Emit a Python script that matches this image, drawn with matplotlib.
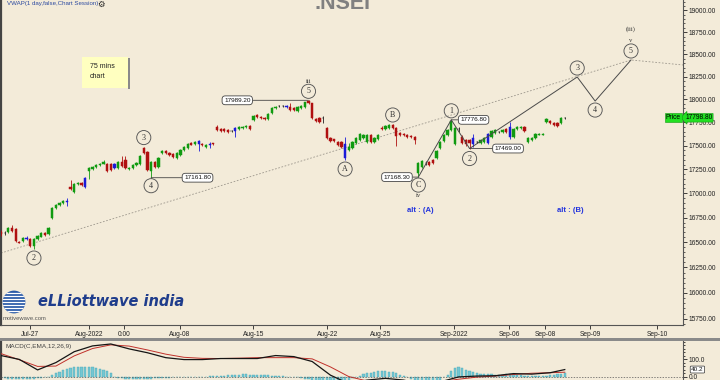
import numpy as np
import matplotlib
matplotlib.use('Agg')
import matplotlib.pyplot as plt
from matplotlib.patches import Rectangle, Circle
from matplotlib.ticker import FixedLocator, FixedFormatter, NullFormatter

# 75 min candles (Jul-25 .. Sep-08 2022)
opens = [16603, 16593, 16603, 16649, 16633, 16508, 16513, 16543, 16533, 16463,
         16533, 16556, 16593, 16583, 16745, 16848, 16878, 16899, 16920, 17064,
         17012, 17096, 17106, 17064, 17230, 17251, 17273, 17294, 17310, 17304,
         17304, 17262, 17262, 17326, 17347, 17257, 17262, 17294, 17304, 17474,
         17432, 17230, 17326, 17273, 17421, 17442, 17421, 17411, 17368, 17400,
         17453, 17474, 17528, 17517, 17549, 17517, 17485, 17517, 17528, 17700,
         17678, 17673, 17667, 17657, 17657, 17678, 17689, 17700, 17710, 17775,
         17829, 17808, 17797, 17786, 17851, 17905, 17927, 17927, 17927, 17916,
         17905, 17868, 17905, 17916, 17981, 17959, 17786, 17797, 17797, 17689,
         17581, 17571, 17538, 17538, 17517, 17453, 17474, 17528, 17560, 17581,
         17538, 17614, 17538, 17571, 17689, 17678, 17689, 17721, 17689, 17635,
         17624, 17614, 17603, 17592, 17209, 17273, 17315, 17326, 17347, 17368,
         17474, 17549, 17614, 17667, 17517, 17678, 17592, 17560, 17560, 17517,
         17538, 17528, 17538, 17528, 17592, 17635, 17646, 17646, 17678, 17700,
         17592, 17678, 17689, 17700, 17538, 17560, 17581, 17614, 17614, 17754,
         17764, 17743, 17743, 17743, 17797]
highs = [16623, 16613, 16654, 16674, 16643, 16513, 16553, 16563, 16543, 16543,
         16573, 16603, 16603, 16654, 16858, 16889, 16909, 16930, 16950, 17138,
         17106, 17117, 17117, 17169, 17273, 17283, 17304, 17315, 17352, 17315,
         17315, 17315, 17336, 17389, 17389, 17273, 17304, 17326, 17400, 17490,
         17442, 17336, 17336, 17379, 17453, 17453, 17432, 17421, 17432, 17464,
         17495, 17528, 17538, 17549, 17560, 17528, 17517, 17538, 17533, 17721,
         17689, 17684, 17678, 17667, 17700, 17710, 17710, 17721, 17721, 17829,
         17840, 17818, 17808, 17851, 17916, 17927, 17938, 17938, 17938, 17959,
         17916, 17927, 17938, 17976, 17989.2, 17965, 17797, 17808, 17818, 17700,
         17592, 17576, 17549, 17549, 17592, 17528, 17549, 17592, 17635, 17624,
         17624, 17624, 17592, 17624, 17710, 17721, 17732, 17732, 17700, 17646,
         17635, 17624, 17614, 17603, 17326, 17347, 17336, 17336, 17358, 17453,
         17549, 17624, 17678, 17776.8, 17700, 17700, 17614, 17571, 17571, 17624,
         17549, 17571, 17592, 17635, 17667, 17678, 17657, 17678, 17689, 17754,
         17689, 17710, 17710, 17710, 17592, 17592, 17635, 17635, 17635, 17797,
         17775, 17754, 17754, 17808, 17803]
lows = [16563, 16573, 16593, 16603, 16503, 16493, 16503, 16523, 16458, 16433,
        16523, 16553, 16563, 16573, 16735, 16837, 16868, 16889, 16868, 17033,
        17002, 17085, 17075, 17054, 17148, 17241, 17262, 17283, 17304, 17220,
        17230, 17251, 17251, 17273, 17251, 17241, 17251, 17283, 17294, 17411,
        17230, 17161.8, 17262, 17262, 17411, 17411, 17389, 17368, 17358, 17389,
        17442, 17464, 17506, 17506, 17442, 17495, 17474, 17474, 17506, 17657,
        17646, 17646, 17635, 17646, 17592, 17667, 17678, 17689, 17667, 17764,
        17797, 17786, 17775, 17775, 17840, 17894, 17916, 17916, 17905, 17873,
        17873, 17862, 17894, 17905, 17949, 17786, 17754, 17743, 17743, 17571,
        17538, 17538, 17495, 17474, 17347, 17442, 17464, 17517, 17549, 17571,
        17528, 17528, 17528, 17560, 17667, 17667, 17678, 17678, 17495, 17603,
        17603, 17581, 17581, 17517, 17168.3, 17262, 17294, 17283, 17304, 17358,
        17464, 17538, 17603, 17657, 17506, 17646, 17517, 17495, 17469.0, 17485,
        17528, 17517, 17528, 17517, 17581, 17624, 17635, 17635, 17635, 17571,
        17581, 17667, 17678, 17646, 17528, 17549, 17571, 17614, 17614, 17743,
        17732, 17710, 17700, 17732, 17786]
closes = [16583, 16590, 16643, 16613, 16513, 16498, 16546, 16533, 16463, 16533,
          16563, 16590, 16573, 16643, 16848, 16878, 16899, 16920, 16915, 17049,
          17096, 17106, 17085, 17159, 17262, 17273, 17294, 17310, 17326, 17230,
          17241, 17304, 17326, 17283, 17262, 17268, 17294, 17315, 17389, 17421,
          17241, 17326, 17273, 17368, 17442, 17421, 17400, 17379, 17421, 17453,
          17485, 17517, 17512, 17538, 17517, 17506, 17506, 17512, 17517, 17667,
          17657, 17657, 17646, 17655, 17689, 17700, 17700, 17710, 17678, 17818,
          17808, 17797, 17786, 17840, 17905, 17916, 17925, 17929, 17916, 17884,
          17884, 17916, 17927, 17970, 17959, 17797, 17764, 17754, 17795, 17581,
          17549, 17549, 17506, 17485, 17368, 17485, 17538, 17581, 17624, 17614,
          17614, 17538, 17581, 17614, 17678, 17710, 17721, 17689, 17603, 17614,
          17614, 17592, 17592, 17560, 17315, 17336, 17318, 17294, 17315, 17442,
          17538, 17614, 17667, 17764, 17689, 17675, 17528, 17517, 17528, 17581,
          17540, 17560, 17581, 17624, 17657, 17667, 17648, 17667, 17646, 17592,
          17678, 17700, 17700, 17657, 17581, 17581, 17624, 17624, 17624, 17786,
          17743, 17721, 17710, 17797, 17798.8]
blue_bars = [7, 18, 23, 31, 54, 57, 64, 78, 94, 129, 133, 139]
last_price = 17798.80

price_ticks = [15750, 16000, 16250, 16500, 16750, 17000, 17250, 17500,
               17750, 18000, 18250, 18500, 18750, 19000]
date_labels = ['Jul-27', 'Aug-2022', '0:00', 'Aug-08', 'Aug-15', 'Aug-22',
               'Aug-25', 'Sep-2022', 'Sep-06', 'Sep-08', 'Sep-09', 'Sep-10']
date_pos = [7.9, 24.0, 33.6, 48.9, 68.9, 89.1, 103.6, 123.8, 138.8, 148.6, 160.9, 179.2]

# wave count: C, 1, 2 pivots then projected 3, 4, 5
wave_x = [114, 123, 128, 157.4, 162.3, 172.1]
wave_y = [17168.3, 17776.8, 17469.0, 18246, 17981, 18436]
channel_x = [0, 172.1, 186.3]
channel_y = [16393, 18436, 18380]

# MACD(12,26,9) read every 5 bars
macd_x = list(range(0, 155, 5)) + [154]
macd_line = [120, 98, 38, 80, 142, 175, 186, 158, 136, 108, 97, 97, 103, 103, 103, 120,
             114, 86, 8, -40, -20, -10, -20, -45, -30, -2, 3, 5, 17, 14, 22, 40]
signal_line = [131, 96, 58, 60, 118, 160, 181, 174, 152, 128, 110, 104, 103, 105, 108, 108,
               108, 101, 55, 0, -25, -30, -30, -35, -30, -15, -3, 3, 12, 19, 22, 25]
macd_hist = ([-8, -10, -12, -14, -15, -16, -16, -15, -14, -12, -10, -8, -5, -2]
             + [8, 20, 28, 35, 42, 48, 52, 55, 56, 56, 55, 52, 48, 45, 40, 32, 22]
             + [-5, -8, -10, -12, -14, -15, -15, -14, -13, -12, -11, -10, -9, -8, -7, -6,
                -5, -4, -3, -3, -2, -2, -1, -1, 0, 0, 1, 1]
             + [3, 5, 6, 8, 9, 10, 11, 12, 12, 11, 10, 10, 9, 8, 7, 6, 5, 3, 2]
             + [0, -1, -3, -5, -8, -12, -16, -20, -25, -30, -34, -38, -40, -40, -38, -35]
             + [-30, -20, -10, -2, 5, 12, 18, 22, 26, 29, 30, 30, 28, 24, 18]
             + [10, 2, -5, -12, -20, -30, -35, -38, -38, -35, -28, -18]
             + [-5, 10, 30, 48, 55, 50, 40, 32]
             + [25, 20, 16, 14, 12, 12, 11, 10, 10, 12, 14, 12, 10, 8, 6, 5, 4, 4, 3, 3,
                6, 8, 10, 13, 15, 18])
macd_last = 40.2

BG = '#f3ebd9'
GREEN = '#109a10'
RED = '#b01010'
BLUE = '#1a1ad8'
BLACK = '#202020'
TICK = 'Liberation Sans'


def fig_box(x, y, w, h):
    return [x / 720, 1 - (y + h) / 380, w / 720, h / 380]


def candle_colors():
    cols = []
    for i, (o, c) in enumerate(zip(opens, closes)):
        if i in blue_bars:
            cols.append(BLUE)
        elif abs(c - o) <= 5:
            cols.append(BLACK)
        elif c > o:
            cols.append(GREEN)
        else:
            cols.append(RED)
    return cols


def circled(ax, x, y, txt, dy):
    ax.annotate(txt, xy=(x, y), xytext=(0, dy), textcoords='offset pixels',
                ha='center', va='center', fontsize=5.8, family='Liberation Serif',
                color='#333333',
                bbox=dict(boxstyle='circle,pad=0.38', fc='none', ec='#555555', lw=0.65))


def roman(ax, x, y, txt, dy):
    ax.annotate(txt, xy=(x, y), xytext=(0, dy), textcoords='offset pixels',
                ha='center', va='center', fontsize=4.8, family='Liberation Serif',
                color='#333333')


def price_box(ax, x, y, dx, side):
    ha = 'left' if side > 0 else 'right'
    ax.annotate('%.2f' % y, xy=(x, y), xytext=(dx, 0), textcoords='offset pixels',
                ha=ha, va='center', fontsize=4.6, family=TICK, color='#111111',
                bbox=dict(boxstyle='round,pad=0.3,rounding_size=0.5', fc='white',
                          ec='#444444', lw=0.6),
                arrowprops=dict(arrowstyle='-', color='#444444', lw=0.6,
                                shrinkA=0, shrinkB=0,
                                relpos=(0, 0.5) if side > 0 else (1, 0.5)))


def draw_price(ax):
    x = np.arange(len(closes))
    o = np.array(opens, float)
    c = np.array(closes, float)
    cols = candle_colors()
    ax.vlines(x, lows, highs, colors=cols, linewidth=0.6, zorder=3)
    ax.bar(x, np.abs(c - o), bottom=np.minimum(o, c), width=0.62, color=cols,
           edgecolor=cols, linewidth=0.35, zorder=4)

    ax.plot(channel_x, channel_y, color='#9c968c', lw=0.6, ls=(0, (2, 2)), zorder=2)
    ax.plot(wave_x, wave_y, color='#4a4a4a', lw=0.7, zorder=5)

    circled(ax, 9, lows[9], '2', -9)
    circled(ax, 39, highs[39], '3', 9)
    circled(ax, 41, lows[41], '4', -8)
    circled(ax, 84, highs[84], '5', 9)
    roman(ax, 84, highs[84], 'iii', 19)
    circled(ax, 94, lows[94], 'A', -9)
    circled(ax, 107, highs[107], 'B', 9)
    circled(ax, 114, lows[114], 'C', -8)
    roman(ax, 114, lows[114], 'iv', -18)
    circled(ax, wave_x[1], wave_y[1], '1', 9)
    circled(ax, wave_x[2], wave_y[2], '2', -10)
    circled(ax, wave_x[3], wave_y[3], '3', 9)
    circled(ax, wave_x[4], wave_y[4], '4', -9)
    circled(ax, wave_x[5], wave_y[5], '5', 9)
    roman(ax, wave_x[5], wave_y[5], 'v', 19)
    roman(ax, wave_x[5], wave_y[5], '(iii)', 31)

    price_box(ax, 41, lows[41], 33, 1)
    price_box(ax, 84, highs[84], -58, -1)
    price_box(ax, 123, highs[123], 9, 1)
    price_box(ax, 128, lows[128], 25, 1)
    price_box(ax, 114, lows[114], -8, -1)

    ax.text(114.5, 16827, 'alt : (A)', ha='center', va='center', fontsize=5.5,
            fontweight='bold', color='#2233dd', family=TICK)
    ax.text(155.5, 16827, 'alt : (B)', ha='center', va='center', fontsize=5.5,
            fontweight='bold', color='#2233dd', family=TICK)

    ax.set_yscale('log')
    ax.set_ylim(15691, 19121)
    ax.set_xlim(0, 186.3)
    ax.yaxis.tick_right()
    ax.yaxis.set_major_locator(FixedLocator(price_ticks))
    ax.yaxis.set_minor_locator(FixedLocator(np.arange(15700, 19101, 50)))
    ax.yaxis.set_major_formatter(FixedFormatter(['%.2f' % v for v in price_ticks]))
    ax.yaxis.set_minor_formatter(NullFormatter())
    ax.xaxis.set_major_locator(FixedLocator(date_pos))
    ax.set_xticklabels(date_labels)
    ax.tick_params(axis='both', which='major', length=3, width=0.6, pad=1,
                   labelsize=4.8, colors='#222222')
    ax.tick_params(axis='y', which='minor', length=1.5, width=0.5, colors='#222222')
    for lab in ax.get_xticklabels() + ax.get_yticklabels():
        lab.set_family(TICK)
    ax.spines['top'].set_visible(False)
    ax.spines['left'].set_color('#444444')
    ax.spines['left'].set_linewidth(1.6)
    for s in ['right', 'bottom']:
        ax.spines[s].set_color('#555555')
        ax.spines[s].set_linewidth(0.8)

    ax.annotate('%.2f' % last_price, xy=(1.003, last_price),
                xycoords=ax.get_yaxis_transform(), ha='left', va='center',
                fontsize=4.8, family=TICK, color='black',
                bbox=dict(boxstyle='larrow,pad=0.12', fc='#22e022', ec='#119911', lw=0.4))
    ax.annotate('Price', xy=(0.997, last_price), xycoords=ax.get_yaxis_transform(),
                ha='right', va='center', fontsize=4.8, family=TICK, color='black',
                bbox=dict(boxstyle='square,pad=0.15', fc='#22e022', ec='#119911', lw=0.4))


def draw_macd(ax):
    x = np.arange(len(macd_hist))
    ax.bar(x, macd_hist, width=0.6, color='#74c7d2', edgecolor='#4aa8b8',
           linewidth=0.3, zorder=2)
    ax.axhline(0, color='#555555', lw=0.5, ls=(0, (2, 2)), zorder=3)
    ax.plot(macd_x, signal_line, color='#c0302a', lw=0.7, zorder=4)
    ax.plot(macd_x, macd_line, color='#151515', lw=0.9, zorder=5)
    ax.set_xlim(0, 186.3)
    ax.set_ylim(-19.5, 203)
    ax.yaxis.tick_right()
    ax.set_yticks([0, 100])
    ax.set_yticklabels(['0.0', '100.0'])
    ax.yaxis.set_minor_locator(FixedLocator(np.arange(0, 201, 20)))
    ax.tick_params(axis='y', which='major', length=3, width=0.6, pad=1,
                   labelsize=4.8, colors='#222222')
    ax.tick_params(axis='y', which='minor', length=1.5, width=0.5)
    for lab in ax.get_yticklabels():
        lab.set_family(TICK)
    ax.set_xticks([])
    ax.spines['top'].set_visible(False)
    ax.spines['bottom'].set_visible(False)
    ax.spines['left'].set_color('#444444')
    ax.spines['left'].set_linewidth(1.6)
    ax.spines['right'].set_color('#555555')
    ax.spines['right'].set_linewidth(0.8)
    ax.text(0.007, 0.87, 'MACD(C,EMA,12,26,9)', transform=ax.transAxes,
            fontsize=4.6, family=TICK, color='#444444', va='center')
    ax.annotate('%.1f' % macd_last, xy=(1.012, macd_last),
                xycoords=ax.get_yaxis_transform(), ha='left', va='center',
                fontsize=4.6, family=TICK, color='#111111',
                bbox=dict(boxstyle='round,pad=0.15', fc='white', ec='#333333', lw=0.5))


def draw_decor(fig):
    fig.text(7 / 720, 1 - 4 / 380, 'VWAP(1 day,false,Chart Session)', fontsize=4.4,
             family=TICK, color='#2c4aa0', va='center')
    fig.text(101 / 720, 1 - 4 / 380, '\u2699', fontsize=6, family='DejaVu Sans',
             color='#222222', va='center', ha='center')
    fig.text(342 / 720, 1 - 3.5 / 380, '.NSEI', fontsize=15.5, family=TICK,
             fontweight='bold', color='#808080', ha='center', va='center')

    # "75 mins chart" note
    fig.patches.append(Rectangle((128 / 720, 1 - 89 / 380), 1.5 / 720, 31 / 380,
                                 transform=fig.transFigure, fc='#8a8a8a', ec='none'))
    fig.patches.append(Rectangle((82 / 720, 1 - 88 / 380), 46 / 720, 31 / 380,
                                 transform=fig.transFigure, fc='#ffffc0', ec='none'))
    fig.text(90 / 720, 1 - 66 / 380, '75 mins', fontsize=5, family=TICK,
             color='#222222', va='center')
    fig.text(90 / 720, 1 - 77 / 380, 'chart', fontsize=5, family=TICK,
             color='#222222', va='center')

    # logo
    lax = fig.add_axes(fig_box(2, 290, 24, 24))
    lax.set_xlim(-1, 1)
    lax.set_ylim(-1, 1)
    lax.set_aspect('equal')
    lax.axis('off')
    disc = Circle((0, 0), 0.95, fc='#2a5aa8', ec='none')
    lax.add_patch(disc)
    for yy in np.linspace(-0.75, 0.75, 7):
        ln, = lax.plot([-1, 1], [yy, yy], color='white', lw=0.9)
        ln.set_clip_path(disc)
    fig.text(38 / 720, 1 - 302 / 380, 'eLLiottwave india', fontsize=10.5,
             family='DejaVu Sans', fontweight='bold', style='italic',
             color='#1f3d8c', va='center')
    fig.text(3 / 720, 1 - 319 / 380, 'motivewave.com', fontsize=4.2, family=TICK,
             color='#555555', va='center')

    # pane divider
    fig.patches.append(Rectangle((0, 1 - 341 / 380), 1, 3 / 380,
                                 transform=fig.transFigure, fc='#8a8a8a', ec='none'))


def main():
    fig = plt.figure(figsize=(7.2, 3.8), dpi=100)
    fig.patch.set_facecolor(BG)

    ax = fig.add_axes(fig_box(1, 0, 682, 325))
    ax.set_facecolor(BG)
    draw_price(ax)

    ax2 = fig.add_axes(fig_box(1, 341, 682, 39))
    ax2.set_facecolor(BG)
    draw_macd(ax2)

    draw_decor(fig)
    fig.savefig('out.png', dpi=100, facecolor=BG)


if __name__ == '__main__':
    main()
